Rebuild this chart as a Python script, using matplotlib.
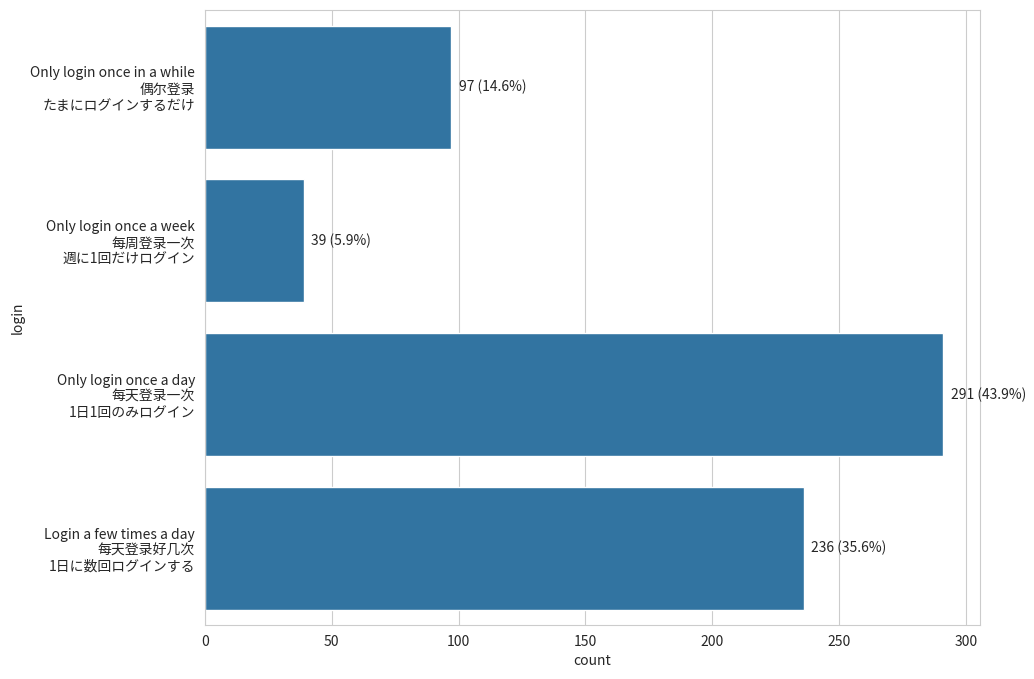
import matplotlib
matplotlib.use("Agg")
import matplotlib.pyplot as plt
import seaborn as sns
import pandas as pd

categories = [
    "Only login once in a while\n偶尔登录\nたまにログインするだけ",
    "Only login once a week\n每周登录一次\n週に1回だけログイン",
    "Only login once a day\n每天登录一次\n1日1回のみログイン",
    "Login a few times a day\n每天登录好几次\n1日に数回ログインする",
]
counts = [97, 39, 291, 236]

sns.set_style("whitegrid")
plt.rcParams['font.family'] = ['Noto Sans CJK JP', 'DejaVu Sans']

df = pd.DataFrame({"login": categories, "count": counts})
total = sum(counts)

fig = plt.figure(figsize=(10.34, 6.79), dpi=100)
ax = fig.add_axes([0.198, 0.0795, 0.75, 0.9055])
sns.barplot(data=df, y="login", x="count", color="#1f77b4", ax=ax, orient="h")

for i, c in enumerate(counts):
    ax.text(c + 3, i, f"{c} ({c / total * 100:.1f}%)", va="center", ha="left", fontsize=10)

ax.set_xlabel("count", fontsize=10)
ax.set_ylabel("login", fontsize=10)
ax.tick_params(labelsize=10)

fig.savefig("out.png", dpi=100)
